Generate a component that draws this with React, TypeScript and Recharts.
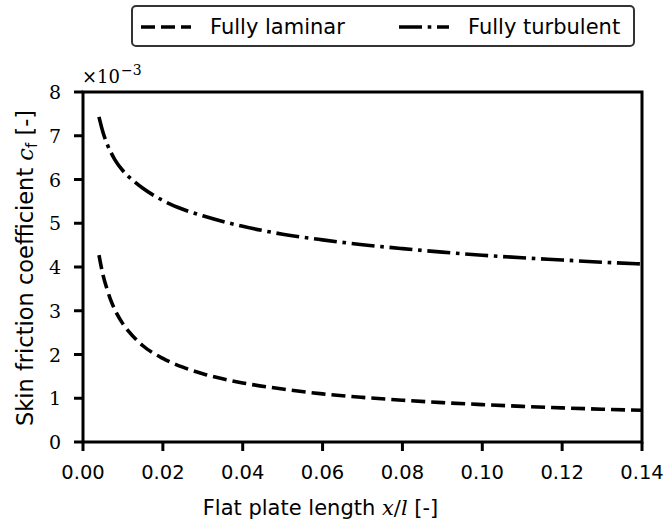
import { LineChart, Line, XAxis, YAxis, ReferenceArea, Legend, Label } from 'recharts'

// plate position x/l
const xPos = [0.004, 0.005, 0.006, 0.007, 0.008, 0.01, 0.0125, 0.015, 0.02, 0.025, 0.03, 0.04, 0.05, 0.06, 0.07, 0.08, 0.09, 0.1, 0.11, 0.12, 0.13, 0.14]
// skin friction coefficient, in units of 1e-3
const laminar = [4.27, 3.82, 3.5, 3.23, 3.02, 2.7, 2.42, 2.2, 1.91, 1.71, 1.56, 1.35, 1.21, 1.1, 1.02, 0.955, 0.9, 0.855, 0.815, 0.78, 0.75, 0.725]
const turbulent = [7.43, 7.08, 6.82, 6.62, 6.45, 6.2, 5.98, 5.8, 5.52, 5.32, 5.17, 4.93, 4.75, 4.62, 4.51, 4.42, 4.34, 4.27, 4.21, 4.16, 4.11, 4.07]

const xTicks = [0, 0.02, 0.04, 0.06, 0.08, 0.1, 0.12, 0.14]
const yTicks = [0, 1, 2, 3, 4, 5, 6, 7, 8]

const data = xPos.map((x, i) => ({ x, laminar: laminar[i], turbulent: turbulent[i] }))

const SANS = 'DejaVu Sans, sans-serif'
const SERIF = 'DejaVu Serif, serif'
const LAM_DASH = '14 6'
const TURB_DASH = '23 5.7 3.6 5.7'

const XTick = ({ x, y, payload }: any) => (
  <text x={x} y={y} dy={26} textAnchor="middle" fontFamily={SANS} fontSize={19.5} fill="#000">
    {payload.value.toFixed(2)}
  </text>
)

const YTick = ({ x, y, payload }: any) => (
  <text x={x} y={y} dx={-11} dy={7} textAnchor="end" fontFamily={SERIF} fontSize={19} fill="#000">
    {payload.value}
  </text>
)

const legendContent = () => (
  <div
    style={{
      width: 504,
      height: 42,
      boxSizing: 'border-box',
      border: '2px solid #333',
      borderRadius: 5,
      background: '#fff',
      position: 'relative',
    }}
  >
    <svg width={500} height={38} style={{ position: 'absolute', left: 0, top: 0 }}>
      <line x1={8} y1={20} x2={58} y2={20} stroke="#000" strokeWidth={3.6} strokeDasharray={LAM_DASH} />
      <text x={77} y={27} fontFamily={SANS} fontSize={21} fill="#000">Fully laminar</text>
      <line x1={266} y1={20} x2={316} y2={20} stroke="#000" strokeWidth={3.6} strokeDasharray={TURB_DASH} />
      <text x={335} y={27} fontFamily={SANS} fontSize={21} fill="#000">Fully turbulent</text>
    </svg>
  </div>
)

const xLabel = ({ viewBox }: any) => {
  const cx = viewBox.x + viewBox.width / 2 - 42
  return (
    <text x={cx} y={viewBox.y + 73} textAnchor="middle" fontFamily={SANS} fontSize={21} fill="#000">
      Flat plate length{' '}
      <tspan fontFamily={SERIF} fontStyle="italic">x</tspan>
      <tspan fontFamily={SERIF}>/</tspan>
      <tspan fontFamily={SERIF} fontStyle="italic">l</tspan> [-]
    </text>
  )
}

const yLabel = () => {
  const cy = 268
  return (
    <text
      x={33}
      y={cy}
      transform={`rotate(-90, 33, ${cy})`}
      textAnchor="middle"
      fontFamily={SANS}
      fontSize={22.5}
      fill="#000"
    >
      Skin friction coefficient{' '}
      <tspan fontFamily={SERIF} fontStyle="italic">c</tspan>
      <tspan fontSize={15} dy={4}>f</tspan>
      <tspan dy={-4}> [-]</tspan>
    </text>
  )
}

const offsetLabel = () => (
  <text x={82} y={83} fontFamily={SERIF} fontSize={18} fill="#000">
    ×10<tspan fontSize={14} dx={1} dy={-8}>−3</tspan>
  </text>
)

export default function App() {
  return (
    <div style={{ position: 'absolute', left: 0, top: 0, background: '#fff' }}>
      <LineChart width={665} height={528} data={data} margin={{ top: 92, right: 23, left: 0, bottom: 0 }}>
        <XAxis
          dataKey="x"
          type="number"
          domain={[0, 0.14]}
          ticks={xTicks}
          interval={0}
          height={86}
          tickSize={9}
          axisLine={false}
          tickLine={{ stroke: '#000', strokeWidth: 3 }}
          tick={<XTick />}
        >
          <Label content={xLabel} />
        </XAxis>
        <YAxis
          type="number"
          domain={[0, 8]}
          ticks={yTicks}
          interval={0}
          width={83}
          tickSize={9}
          axisLine={false}
          tickLine={{ stroke: '#000', strokeWidth: 3 }}
          tick={<YTick />}
        >
          <Label content={yLabel} />
          <Label content={offsetLabel} />
        </YAxis>
        <Legend
          layout="vertical"
          align="center"
          verticalAlign="middle"
          content={legendContent}
          wrapperStyle={{ left: 131, top: 5, width: 504, height: 42 }}
        />
        <Line
          dataKey="laminar"
          type="monotone"
          stroke="#000"
          strokeWidth={3.6}
          strokeDasharray={LAM_DASH}
          dot={false}
          activeDot={false}
          isAnimationActive={false}
        />
        <Line
          dataKey="turbulent"
          type="monotone"
          stroke="#000"
          strokeWidth={3.6}
          strokeDasharray={TURB_DASH}
          dot={false}
          activeDot={false}
          isAnimationActive={false}
        />
        <ReferenceArea x1={0} x2={0.14} y1={0} y2={8} fill="none" stroke="#000" strokeWidth={3} ifOverflow="visible" />
      </LineChart>
    </div>
  )
}
